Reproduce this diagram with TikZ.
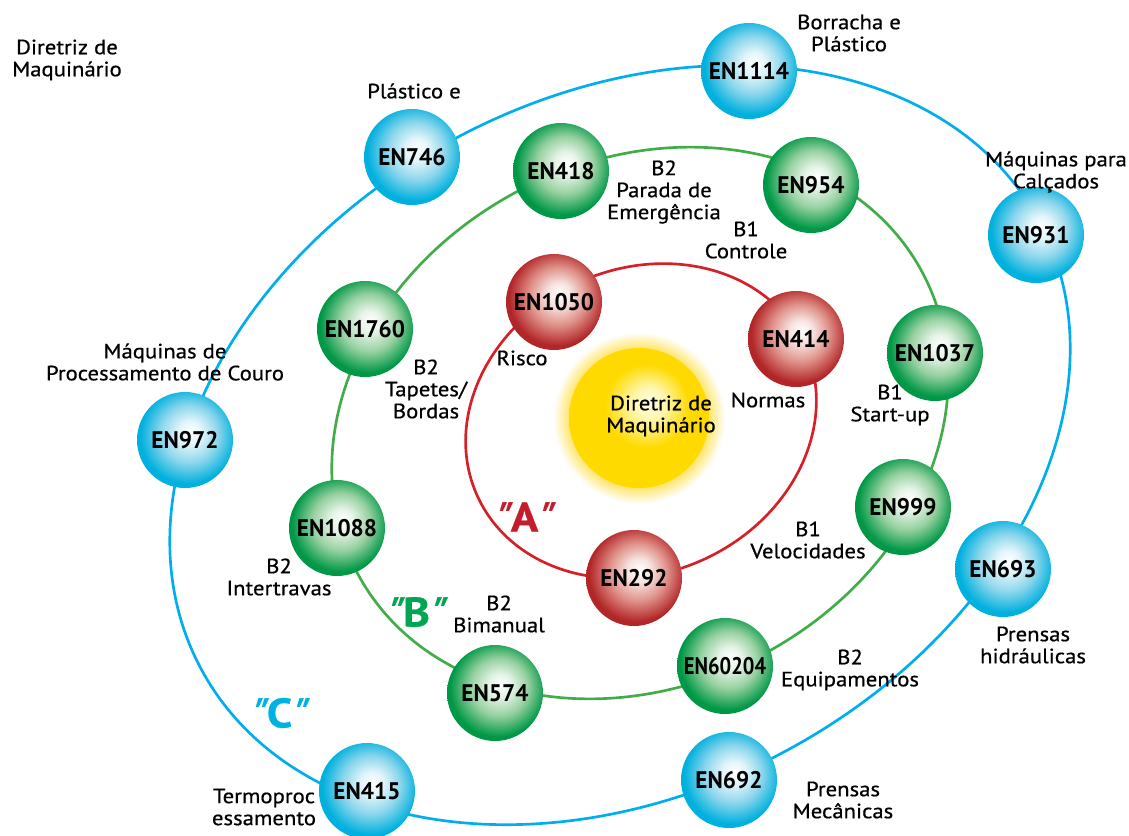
\documentclass[tikz,border=0pt]{standalone}
\usepackage{fontspec}
\usepackage{graphicx}
\setmainfont{PT Sans}[FakeStretch=1.1, FakeBold=0.6]
\newfontfamily\enfont{PT Sans}[FakeStretch=0.97]
\newfontfamily\aspasfont{PT Sans}[FakeSlant=0.3]
\newcommand{\aspas}{{\aspasfont\bfseries"}}
\newcommand{\nivelde}[1]{\aspas\kern0.1em #1\kern-0.12em\aspas}

% cores das orbitas e das esferas
\definecolor{linhaA}{RGB}{214,32,39}
\definecolor{linhaB}{RGB}{64,173,72}
\definecolor{linhaC}{RGB}{0,174,239}
\definecolor{rotuloA}{RGB}{196,30,45}
\definecolor{rotuloB}{RGB}{0,166,81}
\definecolor{rotuloC}{RGB}{0,178,226}
\definecolor{azulBorda}{RGB}{0,176,222}
\definecolor{azulMeio}{RGB}{140,214,236}
\definecolor{verdeBorda}{RGB}{0,152,70}
\definecolor{verdeMeio}{RGB}{150,208,160}
\definecolor{vermBorda}{RGB}{178,38,40}
\definecolor{vermMeio}{RGB}{224,146,138}
\definecolor{solAmarelo}{RGB}{255,218,0}
\definecolor{solClaro}{RGB}{255,246,170}
\definecolor{solHalo}{RGB}{255,228,100}

% o circulo ocupa os 25bp centrais da sombra
\pgfdeclareradialshading{esferaazul}{\pgfpoint{3bp}{4.5bp}}{color(0bp)=(white); color(6bp)=(white!75!azulMeio); color(15bp)=(azulMeio); color(25bp)=(azulBorda); color(50bp)=(azulBorda)}
\pgfdeclareradialshading{esferaverde}{\pgfpoint{3bp}{4.5bp}}{color(0bp)=(white); color(6bp)=(white!75!verdeMeio); color(15bp)=(verdeMeio); color(25bp)=(verdeBorda); color(50bp)=(verdeBorda)}
\pgfdeclareradialshading{esferavermelha}{\pgfpoint{3bp}{4.5bp}}{color(0bp)=(white); color(6bp)=(white!75!vermMeio); color(15bp)=(vermMeio); color(25bp)=(vermBorda); color(50bp)=(vermBorda)}
\pgfdeclareradialshading{brilhosol}{\pgfpoint{0bp}{0bp}}{color(0bp)=(solHalo); color(20bp)=(solHalo); color(25bp)=(white); color(50bp)=(white)}
\pgfdeclareradialshading{discosol}{\pgfpoint{4bp}{6bp}}{color(0bp)=(white!70!solClaro); color(6bp)=(solClaro); color(15bp)=(solAmarelo); color(50bp)=(solAmarelo)}

\begin{document}
\begin{tikzpicture}[x=0.75pt, y=-0.75pt,
    esfera/.style={circle, minimum size=72pt, inner sep=0pt, shade, font=\enfont\bfseries\fontsize{18}{18}\selectfont},
    esferaA/.style={esfera, shading=esferavermelha},
    esferaB/.style={esfera, shading=esferaverde},
    esferaC/.style={esfera, shading=esferaazul},
    rotulo/.style={align=center, inner sep=0pt, font=\fontsize{15.5}{16.5}\selectfont},
    nivel/.style={inner sep=0pt, font=\bfseries\fontsize{31}{31}\selectfont},
    orbita/.style={line width=2pt}]

    \useasboundingbox (0,0) rectangle (1129,836);

    % Orbitas "C", "B" e "A"
    \draw[orbita, linhaC, rotate around={28:(620,445)}] (620,445) ellipse [x radius=475, y radius=348];
    \draw[orbita, linhaB, rotate around={28:(640,423)}] (640,423) ellipse [x radius=320, y radius=262];
    \draw[orbita, linhaA, rotate around={25:(641,421)}] (641,421) ellipse [x radius=180, y radius=152];

    % Sol no centro
    \shade[shading=brilhosol] (639,418) circle (86);
    \shade[shading=discosol] (639,418) circle (70);
    \node[rotulo] (sol) at (661,416) {Diretriz de\\Maquinário};

    % Normas tipo C (azul)
    \node[esferaC] (en1114) at (749,71) {EN1114};
    \node[esferaC] (en746) at (412,157) {EN746};
    \node[esferaC] (en931) at (1036,235) {EN931};
    \node[esferaC] (en972) at (185,440) {EN972};
    \node[esferaC] (en693) at (1003,569) {EN693};
    \node[esferaC] (en692) at (729,780) {EN692};
    \node[esferaC] (en415) at (367,791) {EN415};

    % Normas tipo B (verde)
    \node[esferaB] (en418) at (561,171) {EN418};
    \node[esferaB] (en954) at (811,185) {EN954};
    \node[esferaB] (en1037) at (935,353) {EN1037};
    \node[esferaB] (en999) at (903,507) {EN999};
    \node[esferaB] (en60204) at (725,666) {\scalebox{0.88}[1]{EN60204}};
    \node[esferaB] (en574) at (495,693) {EN574};
    \node[esferaB] (en1088) at (337,528) {EN1088};
    \node[esferaB] (en1760) at (365,329) {EN1760};

    % Normas tipo A (vermelho)
    \node[esferaA] (en1050) at (554,302) {EN1050};
    \node[esferaA] (en414) at (796,339) {EN414};
    \node[esferaA] (en292) at (634,578) {EN292};

    % Rotulos
    \node[rotulo] (tituloDiretriz) at (67,60) {Diretriz de\\Maquinário};
    \node[rotulo] (rotPlastico) at (414,91) {Plástico e};
    \node[rotulo] (rotBorracha) at (849,33) {Borracha e\\Plástico};
    \node[rotulo] (rotCalcados) at (1056,172) {Máquinas para\\Calçados};
    \node[rotulo] (rotCouro) at (165,362) {Máquinas de\\Processamento de Couro};
    \node[rotulo] (rotTapetes) at (426,389) {B2\\Tapetes/\\Bordas};
    \node[rotulo] (rotRisco) at (522,358) {Risco};
    \node[rotulo] (rotParada) at (664,192) {B2\\Parada de\\Emergência};
    \node[rotulo] (rotControle) at (746,240) {B1\\Controle};
    \node[rotulo] (rotNormas) at (768,400) {Normas};
    \node[rotulo] (rotStartup) at (890,405) {B1\\Start-up};
    \node[rotulo] (rotIntertravas) at (279,577) {B2\\Intertravas};
    \node[rotulo] (rotBimanual) at (499,614) {B2\\Bimanual};
    \node[rotulo] (rotVelocidades) at (808,540) {B1\\Velocidades};
    \node[rotulo] (rotEquipamentos) at (850,670) {B2\\Equipamentos};
    \node[rotulo] (rotHidraulicas) at (1033,645) {Prensas\\hidráulicas};
    \node[rotulo] (rotMecanicas) at (843,800) {Prensas\\Mecânicas};
    \node[rotulo] (rotTermo) at (264,807) {Termoproc\\essamento};

    % Niveis
    \node[nivel, text=rotuloA] (nivelA) at (520,517) {\nivelde{A}};
    \node[nivel, text=rotuloB] (nivelB) at (412,612) {\nivelde{B}};
    \node[nivel, text=rotuloC] (nivelC) at (275,713) {\nivelde{C}};

\end{tikzpicture}
\end{document}
